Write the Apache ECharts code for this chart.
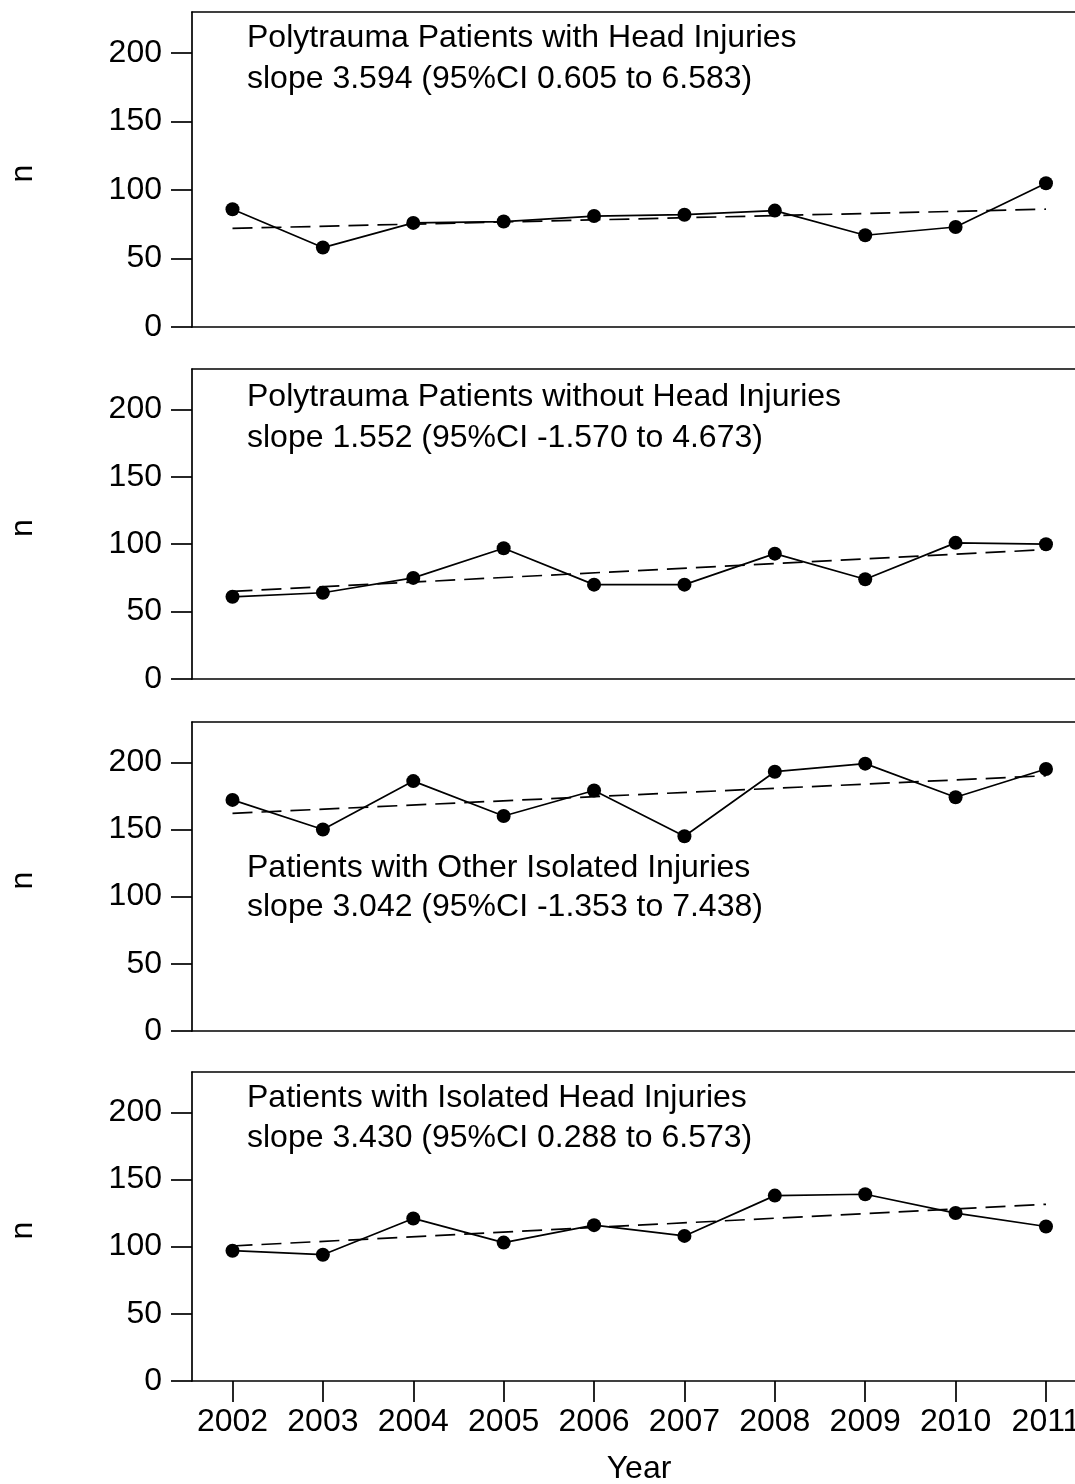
<!DOCTYPE html>
<html>
<head>
<meta charset="utf-8">
<script src="https://cdn.jsdelivr.net/npm/echarts@6/dist/echarts.min.js"></script>
<style>
html,body{margin:0;padding:0;background:#fff;}
#chart{width:1075px;height:1484px;}
</style>
</head>
<body>
<div id="chart"></div>
<script>
// ---- data ----
const years = [2002, 2003, 2004, 2005, 2006, 2007, 2008, 2009, 2010, 2011];
const yTicks = [0, 50, 100, 150, 200];

const polyHead = [86, 58, 76, 77, 81, 82, 85, 67, 73, 105];
const polyNoHead = [61, 64, 75, 97, 70, 70, 93, 74, 101, 100];
const otherIsolated = [172, 150, 186, 160, 179, 145, 193, 199, 174, 195];
const isolatedHead = [97, 94, 121, 103, 116, 108, 138, 139, 125, 115];

const trendPolyHead = [72, 86];
const trendPolyNoHead = [65, 96];
const trendOtherIsolated = [162, 190];
const trendIsolatedHead = [100.5, 131.5];

const titles = [
  ["Polytrauma Patients with Head Injuries", "slope 3.594 (95%CI 0.605 to 6.583)"],
  ["Polytrauma Patients without Head Injuries", "slope 1.552 (95%CI -1.570 to 4.673)"],
  ["Patients with Other Isolated Injuries", "slope 3.042 (95%CI -1.353 to 7.438)"],
  ["Patients with Isolated Head Injuries", "slope 3.430 (95%CI 0.288 to 6.573)"]
];
const seriesValues = [polyHead, polyNoHead, otherIsolated, isolatedHead];
const trendValues = [trendPolyHead, trendPolyNoHead, trendOtherIsolated, trendIsolatedHead];
const yAxisName = "n";
const xAxisName = "Year";

// ---- layout ----
const FONT = "'Liberation Sans', Arial, Helvetica, sans-serif";
const FS = 32;
const panels = [
  {top: 12, height: 315, t1: 38.5, t2: 79},
  {top: 369, height: 310, t1: 397, t2: 438},
  {top: 722, height: 309, t1: 868.5, t2: 907.5},
  {top: 1072, height: 309, t1: 1098.5, t2: 1138}
];
const GRID_LEFT = 192;
const X_MIN = 2001.552, X_MAX = 2011.321;
const LW = 1.7;

const grids = [], xAxes = [], yAxes = [], series = [], graphics = [];
panels.forEach((p, i) => {
  grids.push({left: GRID_LEFT, right: 0, top: p.top, height: p.height, show: false,
    containLabel: false, outerBoundsMode: 'none'});
  const last = i === panels.length - 1;
  // bottom axis
  xAxes.push({
    type: 'value', gridIndex: i, min: X_MIN, max: X_MAX, position: 'bottom',
    axisLine: {show: true, onZero: false, lineStyle: {color: '#000', width: LW}},
    splitLine: {show: false},
    axisTick: {show: last, length: 21, customValues: years, lineStyle: {color: '#000', width: LW}},
    axisLabel: {show: last, customValues: years, margin: 25, color: '#000', fontSize: FS, fontFamily: FONT,
      hideOverlap: false, formatter: v => String(v)}
  });
  // top border line
  xAxes.push({
    type: 'value', gridIndex: i, min: X_MIN, max: X_MAX, position: 'top',
    axisLine: {show: true, onZero: false, lineStyle: {color: '#000', width: LW}},
    splitLine: {show: false}, axisTick: {show: false}, axisLabel: {show: false}
  });
  yAxes.push({
    type: 'value', gridIndex: i, min: 0, max: 230,
    axisLine: {show: true, onZero: false, lineStyle: {color: '#000', width: LW}},
    splitLine: {show: false},
    axisTick: {show: true, length: 21, customValues: yTicks, lineStyle: {color: '#000', width: LW}},
    axisLabel: {customValues: yTicks, margin: 30, color: '#000', fontSize: FS, fontFamily: FONT}
  });
  series.push({
    type: 'line', xAxisIndex: 2 * i, yAxisIndex: i,
    data: [[years[0], trendValues[i][0]], [years[years.length - 1], trendValues[i][1]]],
    symbol: 'none', silent: true,
    lineStyle: {color: '#000', width: LW, type: [20, 9]}, z: 2
  });
  series.push({
    type: 'line', xAxisIndex: 2 * i, yAxisIndex: i,
    data: years.map((y, k) => [y, seriesValues[i][k]]),
    symbol: 'circle', symbolSize: 14,
    itemStyle: {color: '#000'},
    lineStyle: {color: '#000', width: LW}, z: 3
  });
  graphics.push({type: 'text', x: 247, y: p.t1,
    style: {text: titles[i][0], font: FS + 'px ' + FONT, fill: '#000', align: 'left', verticalAlign: 'middle'}});
  graphics.push({type: 'text', x: 247, y: p.t2,
    style: {text: titles[i][1], font: FS + 'px ' + FONT, fill: '#000', align: 'left', verticalAlign: 'middle'}});
  graphics.push({type: 'text', x: 23, y: p.top + p.height / 2 + 4, rotation: Math.PI / 2,
    style: {text: yAxisName, font: FS + 'px ' + FONT, fill: '#000', align: 'center', verticalAlign: 'middle'}});
});
graphics.push({type: 'text', x: 639, y: 1469,
  style: {text: xAxisName, font: FS + 'px ' + FONT, fill: '#000', align: 'center', verticalAlign: 'middle'}});

const chart = echarts.init(document.getElementById('chart'), null, {renderer: 'canvas'});
chart.setOption({
  animation: false,
  backgroundColor: '#fff',
  grid: grids, xAxis: xAxes, yAxis: yAxes, series: series,
  graphic: graphics
});
</script>
</body>
</html>
